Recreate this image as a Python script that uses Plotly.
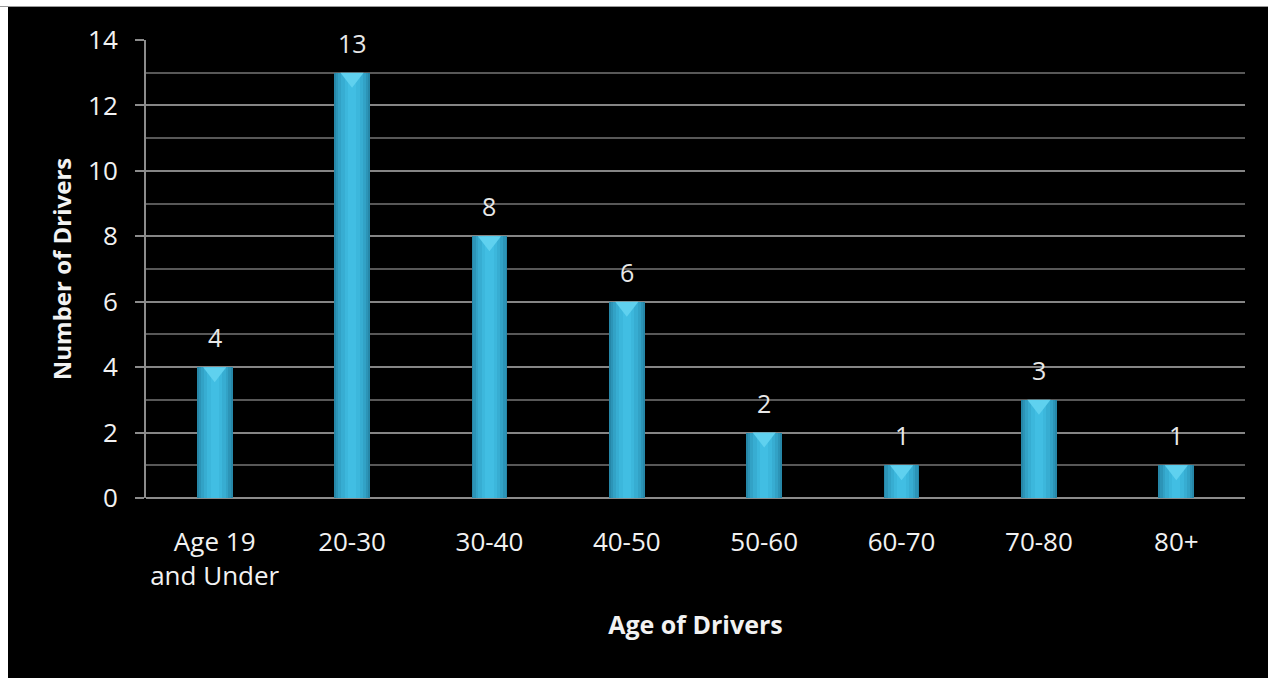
import plotly.graph_objects as go

categories = ["Age 19<br>and Under", "20-30", "30-40", "40-50", "50-60", "60-70", "70-80", "80+"]
drivers = [4, 13, 8, 6, 2, 1, 3, 1]
y_ticks = [0, 2, 4, 6, 8, 10, 12, 14]

FONT = "Open Sans"
TXT = "#f2f2f2"

W, H = 1268, 678
L, R, T, B = 146, 23, 40, 180
pw, ph = W - L - R, H - T - B
px_per_unit = ph / (y_ticks[-1] - y_ticks[0])

fig = go.Figure()

# layered bars to imitate a cylindrical gradient
layers = [(0.26, "#2687a8"), (0.235, "#2c94b7"), (0.20, "#32a2c6"),
          (0.16, "#37add2"), (0.11, "#3cb7dc"), (0.06, "#41bee3")]
for w, c in layers:
    fig.add_trace(go.Bar(x=categories, y=drivers, width=w, marker_color=c,
                         marker_line_width=0, hoverinfo="skip", showlegend=False))

# light chevron at the top of each bar
cap_size = 20
fig.add_trace(go.Scatter(x=categories, y=[v - (cap_size / 4) / px_per_unit for v in drivers],
                         mode="markers",
                         marker=dict(symbol="triangle-down", size=cap_size, color="#5fd1ef",
                                     line_width=0),
                         hoverinfo="skip", showlegend=False))

for c, v in zip(categories, drivers):
    fig.add_annotation(x=c, y=v, text=str(v), showarrow=False, yshift=30,
                       font=dict(family=FONT, size=25, color="#e8e8e8"))

# black chart area over white page edge
fig.add_shape(type="rect", xref="paper", yref="paper", layer="below",
              x0=(8 - L) / pw, x1=(W - L) / pw, y0=-(B + 5) / ph, y1=(ph + T - 7) / ph,
              fillcolor="black", line_width=0)
fig.add_shape(type="line", xref="paper", yref="paper", layer="below",
              x0=(0 - L) / pw, x1=(W - L) / pw, y0=(ph + T - 6.5) / ph, y1=(ph + T - 6.5) / ph,
              line=dict(color="#9a9a9a", width=1))

fig.update_layout(
    width=W, height=H,
    margin=dict(l=L, r=R, t=T, b=B, pad=0),
    paper_bgcolor="white",
    plot_bgcolor="#404040",
    barmode="overlay",
    bargap=0,
    font=dict(family=FONT, size=26, color=TXT),
    xaxis=dict(
        type="category",
        showgrid=False,
        showline=False,
        ticks="",
        tickfont=dict(family=FONT, size=26, color=TXT),
        ticklabelstandoff=26,
        title=dict(text="<b>Age of Drivers</b>", font=dict(family=FONT, size=25, color=TXT),
                   standoff=24),
        fixedrange=True,
    ),
    yaxis=dict(
        range=[0, 14],
        tickvals=y_ticks,
        showgrid=True,
        gridcolor="#858585",
        gridwidth=2,
        minor=dict(dtick=1, showgrid=True, gridcolor="#585858", gridwidth=2),
        showline=True,
        linecolor="#8c8c8c",
        linewidth=2,
        ticks="outside",
        ticklen=9,
        tickcolor="#8c8c8c",
        tickwidth=2,
        zeroline=True,
        zerolinecolor="#8c8c8c",
        zerolinewidth=2,
        tickfont=dict(family=FONT, size=26, color=TXT),
        ticklabelstandoff=12,
        title=dict(text="<b>Number of Drivers</b>", font=dict(family=FONT, size=24, color=TXT),
                   standoff=10),
        fixedrange=True,
    ),
)

fig.write_html("out.html")
